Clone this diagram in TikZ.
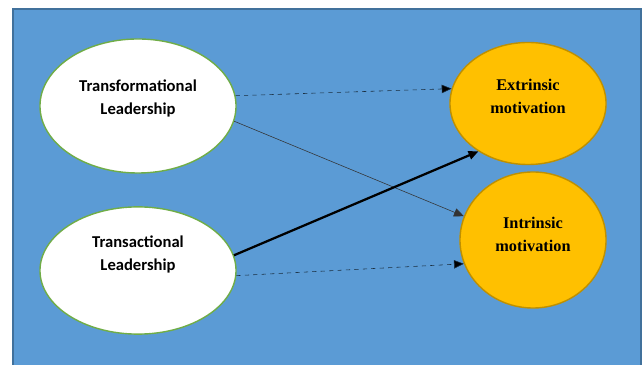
\documentclass[tikz,border=0pt]{standalone}
\usepackage{fontspec}
\setmainfont{Liberation Serif}
\newfontfamily\calibri{Carlito}
\usetikzlibrary{shapes.geometric,arrows.meta}
\definecolor{panel}{HTML}{5B9BD5}
\definecolor{panelline}{HTML}{41719C}
\definecolor{leadline}{HTML}{70AD47}
\definecolor{motfill}{HTML}{FFC000}
\definecolor{motline}{HTML}{BF9000}
\tikzset{
  lead/.style={ellipse,draw=leadline,fill=white,line width=1pt,inner sep=0pt},
  motive/.style={ellipse,draw=motline,fill=motfill,line width=1pt,inner sep=0pt},
  leadtext/.style={font=\calibri\bfseries\fontsize{11.8}{16.4}\selectfont,align=center,inner sep=0pt},
  motext/.style={font=\bfseries\fontsize{11.6}{16.4}\selectfont,align=center,inner sep=0pt},
}
\begin{document}
\begin{tikzpicture}[x=0.025cm,y=-0.025cm,>={Triangle[length=7pt,width=6pt]}]
            \useasboundingbox (0,0) rectangle (643,365);
            \draw[panelline,fill=panel,line width=1.2pt] (13,9) rectangle (641,372);

            \node[lead,minimum width=4.9cm,minimum height=3.35cm,label={[leadtext,yshift=0.19cm]center:Transformational\\Leadership}] (TF) at (138,106) {};
            \node[lead,minimum width=4.9cm,minimum height=3.18cm,label={[leadtext,yshift=0.4cm]center:Transactional\\Leadership}] (TA) at (138,270.5) {};
            \node[motive,minimum width=3.9cm,minimum height=3.05cm,label={[motext,yshift=0.18cm]center:Extrinsic\\motivation}] (EM) at (528,103.5) {};
            \node[motive,minimum width=3.65cm,minimum height=3.4cm,label={[motext,yshift=0.14cm]center:Intrinsic\\motivation}] (IM) at (533,240) {};

            \draw[-{Triangle[length=7pt,width=6pt,fill=black]},dashed,panelline!40!black,thin] (TF.6) to (EM.169); \draw[->,thin,black!80] (TF.-9) to (IM.161);
            \draw[->,line width=1.6pt] (TA.9) to (EM.224); \draw[-{Triangle[length=7pt,width=6pt,fill=black]},dashed,panelline!40!black,thin] (TA.-3.5) to (IM.199);
        \end{tikzpicture}
\end{document}
